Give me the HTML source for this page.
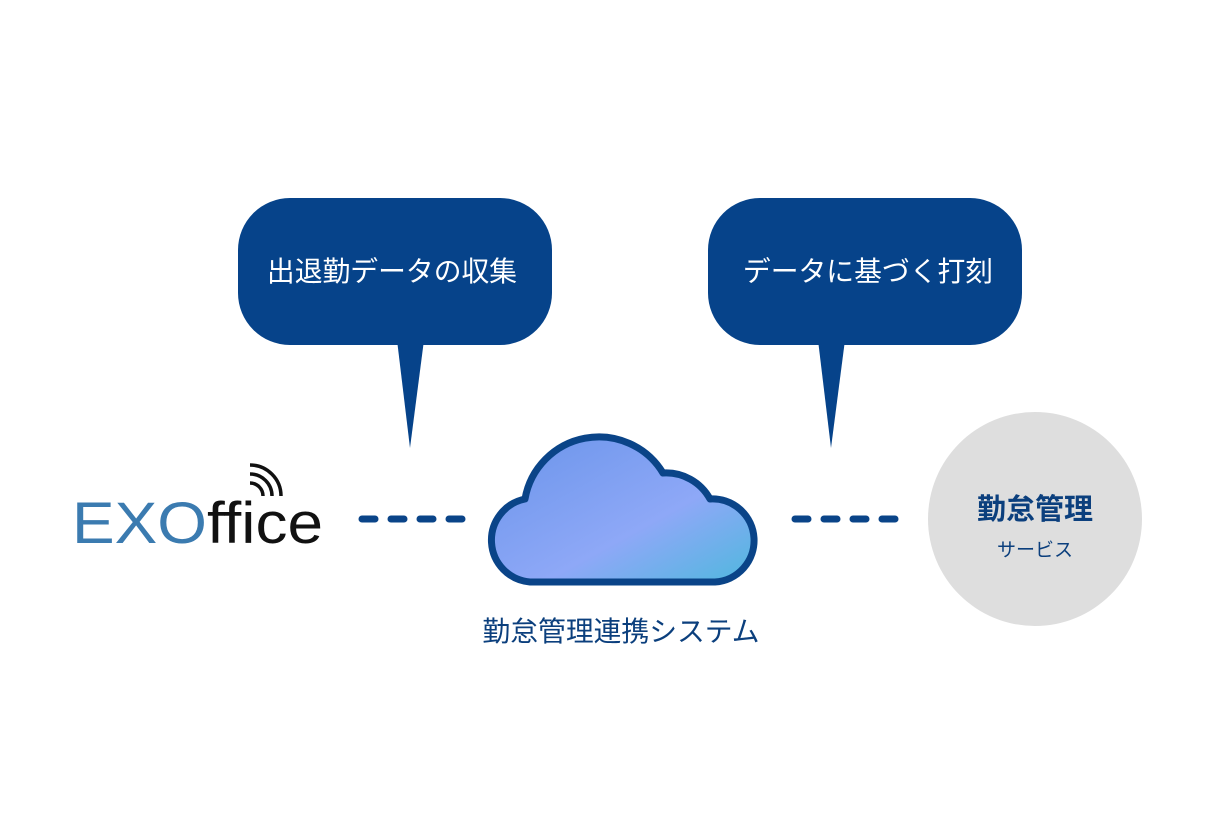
<!DOCTYPE html>
<html><head><meta charset="utf-8"><style>
html,body{margin:0;padding:0;background:#fff;}
svg{display:block;}
text{font-family:"Liberation Sans","Noto Sans CJK JP",sans-serif;}
</style></head><body>
<svg width="1226" height="818" viewBox="0 0 1226 818" xmlns="http://www.w3.org/2000/svg">
<defs>
<linearGradient id="g" x1="0" y1="0" x2="1" y2="1">
<stop offset="0" stop-color="#6a94ea"/>
<stop offset="0.6" stop-color="#8ea8f7"/>
<stop offset="1" stop-color="#4fb8de"/>
</linearGradient>
</defs>
<rect x="238" y="198" width="314" height="147" rx="52" fill="#06438a"/>
<polygon points="397,340 424,340 410,448" fill="#06438a"/>
<text x="392" y="281" font-size="27.8" fill="#fff" text-anchor="middle">出退勤データの収集</text>
<rect x="708" y="198" width="314" height="147" rx="52" fill="#06438a"/>
<polygon points="818,340 845,340 831,448" fill="#06438a"/>
<text x="868" y="281" font-size="27.8" fill="#fff" text-anchor="middle">データに基づく打刻</text>
<text x="72" y="543" font-size="58" textLength="251" lengthAdjust="spacingAndGlyphs"><tspan fill="#3b7bb0">EXO</tspan><tspan fill="#111">ffice</tspan></text>
<g fill="none" stroke="#111" stroke-width="3.5">
<path d="M250 483 A 13 13 0 0 1 263 496"/>
<path d="M250 474 A 22 22 0 0 1 272 496"/>
<path d="M250 465 A 31 31 0 0 1 281 496"/>
</g>
<g stroke="#0a4488" stroke-width="7" stroke-linecap="round">
<line x1="362" y1="519" x2="375" y2="519"/><line x1="391" y1="519" x2="404" y2="519"/><line x1="420" y1="519" x2="433" y2="519"/><line x1="449" y1="519" x2="462" y2="519"/>
<line x1="795" y1="519" x2="808" y2="519"/><line x1="824" y1="519" x2="837" y2="519"/><line x1="853" y1="519" x2="866" y2="519"/><line x1="882" y1="519" x2="895" y2="519"/>
</g>
<path d="M530 582 A 42 42 0 0 1 525 499 A 75 75 0 0 1 663 473 A 50 50 0 0 1 710 499 A 41.5 41.5 0 0 1 715 582 Z" fill="url(#g)" stroke="#0a4488" stroke-width="7" stroke-linejoin="round"/>
<text x="621" y="641" font-size="27.8" fill="#0b3f7d" text-anchor="middle">勤怠管理連携システム</text>
<circle cx="1035" cy="519" r="107" fill="#dedede"/>
<text x="1035" y="519" font-size="29" font-weight="bold" fill="#0b3f7d" text-anchor="middle">勤怠管理</text>
<text x="1035" y="556" font-size="19" fill="#0b3f7d" text-anchor="middle">サービス</text>
</svg>
</body></html>
